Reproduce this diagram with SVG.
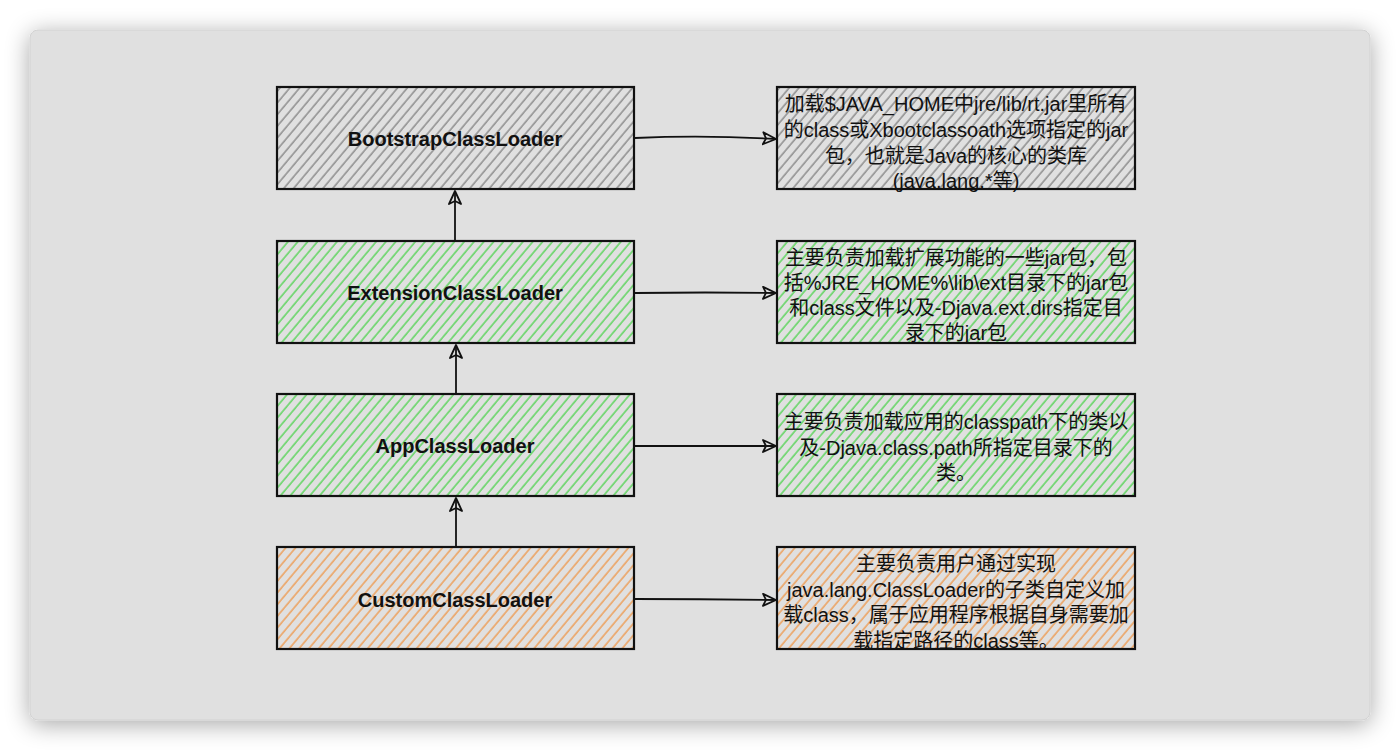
<svg xmlns="http://www.w3.org/2000/svg" width="1400" height="751" viewBox="0 0 1400 751">
<defs>
<filter id="shadow" x="-10%" y="-10%" width="120%" height="120%">
<feGaussianBlur in="SourceAlpha" stdDeviation="12"/>
<feOffset dx="0" dy="4"/>
<feComponentTransfer><feFuncA type="linear" slope="0.35"/></feComponentTransfer>
<feMerge><feMergeNode/><feMergeNode in="SourceGraphic"/></feMerge>
</filter>
<pattern id="hGray" width="7.5" height="7.5" patternUnits="userSpaceOnUse" patternTransform="rotate(40)">
<rect width="7.5" height="7.5" fill="#e0e0e0"/>
<line x1="1" y1="0" x2="1" y2="7.5" stroke="#555" stroke-width="0.9"/>
</pattern>
<pattern id="hGreen" width="7.5" height="7.5" patternUnits="userSpaceOnUse" patternTransform="rotate(40)">
<rect width="7.5" height="7.5" fill="#e0e0e0"/>
<line x1="1" y1="0" x2="1" y2="7.5" stroke="#3fd23f" stroke-width="1.2"/>
</pattern>
<pattern id="hOrange" width="7.5" height="7.5" patternUnits="userSpaceOnUse" patternTransform="rotate(40)">
<rect width="7.5" height="7.5" fill="#e0e0e0"/>
<line x1="1" y1="0" x2="1" y2="7.5" stroke="#f0903a" stroke-width="1.2"/>
</pattern>
<marker id="arr" markerWidth="16" markerHeight="16" refX="14" refY="8" orient="auto" markerUnits="userSpaceOnUse">
<path d="M1,2 L14,8 L1,14 L4,8 Z" fill="none" stroke="#111" stroke-width="1.8" stroke-linejoin="round"/>
</marker>
</defs>
<style>
.box{stroke:#111;stroke-width:2.2}
.lbl{font-family:"Liberation Sans","Noto Sans CJK SC",sans-serif;font-weight:bold;font-size:20px;fill:#111;text-anchor:middle}
.desc{font-family:"Liberation Sans","Noto Sans CJK SC",sans-serif;font-size:20px;fill:#111;text-anchor:middle}
.conn{fill:none;stroke:#111;stroke-width:1.8;marker-end:url(#arr)}
</style>
<rect x="0" y="0" width="1400" height="751" fill="#ffffff"/>
<rect x="30" y="30" width="1340" height="690" rx="8" fill="#e0e0e0" stroke="#d2d2d2" stroke-width="1" filter="url(#shadow)"/>

<g id="bootstrap">
<rect class="box" x="277" y="87" width="357" height="102" fill="url(#hGray)"/>
<text class="lbl" x="455" y="146">BootstrapClassLoader</text>
</g>
<g id="extension">
<rect class="box" x="277" y="241" width="357" height="102" fill="url(#hGreen)"/>
<text class="lbl" x="455" y="300">ExtensionClassLoader</text>
</g>
<g id="app">
<rect class="box" x="277" y="394" width="357" height="102" fill="url(#hGreen)"/>
<text class="lbl" x="455" y="453">AppClassLoader</text>
</g>
<g id="custom">
<rect class="box" x="277" y="547" width="357" height="102" fill="url(#hOrange)"/>
<text class="lbl" x="455" y="607">CustomClassLoader</text>
</g>

<g id="desc-bootstrap">
<rect class="box" x="777" y="87" width="358" height="102" fill="url(#hGray)"/>
<text class="desc" x="956" y="111">加载$JAVA_HOME中jre/lib/rt.jar里所有</text>
<text class="desc" x="956" y="137">的class或Xbootclassoath选项指定的jar</text>
<text class="desc" x="956" y="163">包，也就是Java的核心的类库</text>
<text class="desc" x="956" y="188">(java.lang.*等)</text>
</g>
<g id="desc-extension">
<rect class="box" x="777" y="241" width="358" height="102" fill="url(#hGreen)"/>
<text class="desc" x="956" y="265">主要负责加载扩展功能的一些jar包，包</text>
<text class="desc" x="956" y="290">括%JRE_HOME%\lib\ext目录下的jar包</text>
<text class="desc" x="956" y="315">和class文件以及-Djava.ext.dirs指定目</text>
<text class="desc" x="956" y="340">录下的jar包</text>
</g>
<g id="desc-app">
<rect class="box" x="777" y="394" width="358" height="102" fill="url(#hGreen)"/>
<text class="desc" x="956" y="429">主要负责加载应用的classpath下的类以</text>
<text class="desc" x="956" y="455">及-Djava.class.path所指定目录下的</text>
<text class="desc" x="956" y="480">类。</text>
</g>
<g id="desc-custom">
<rect class="box" x="777" y="547" width="358" height="102" fill="url(#hOrange)"/>
<text class="desc" x="956" y="571">主要负责用户通过实现</text>
<text class="desc" x="956" y="597">java.lang.ClassLoader的子类自定义加</text>
<text class="desc" x="956" y="622">载class，属于应用程序根据自身需要加</text>
<text class="desc" x="956" y="648">载指定路径的class等。</text>
</g>

<g id="connectors">
<path class="conn" d="M635,138 Q705,135 776,139"/>
<path class="conn" d="M635,293 Q705,292 776,293"/>
<path class="conn" d="M635,446 Q705,446 776,446"/>
<path class="conn" d="M635,599 Q705,599 776,600"/>
<path class="conn" d="M455,241 L455,191"/>
<path class="conn" d="M456,394 L456,345"/>
<path class="conn" d="M456,547 L456,498"/>
</g>
</svg>
